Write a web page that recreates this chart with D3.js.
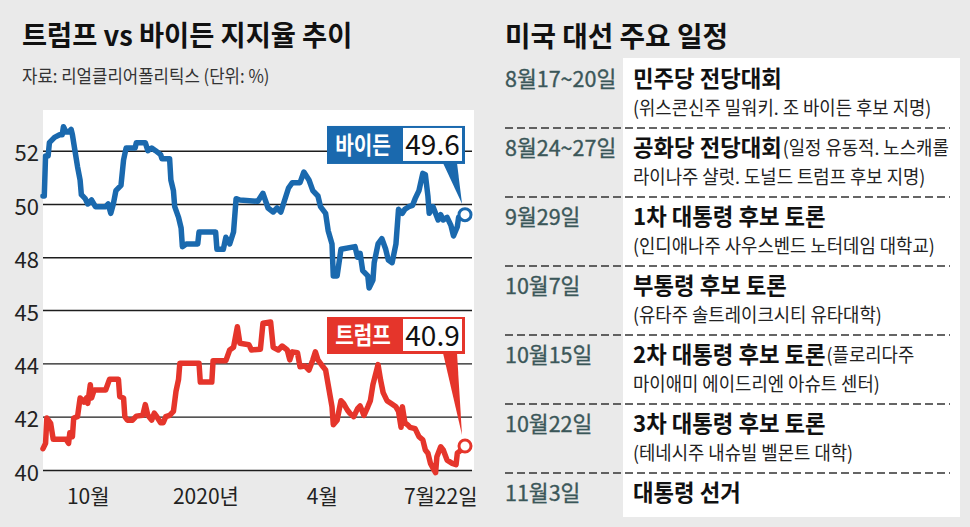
<!DOCTYPE html>
<html><head><meta charset="utf-8">
<script src="https://cdn.jsdelivr.net/npm/d3@7"></script>
<style>body{margin:0;background:#eaeaea;} svg{display:block}</style>
</head><body><svg id="c" width="970" height="527"></svg>
<script>
// ---------- DATA ----------
const bidenSeries = [["2019-08-27",50.3],["2019-08-28",50.3],["2019-08-29",51.8],["2019-08-31",51.8],["2019-09-01",52.3],["2019-09-05",52.5],["2019-09-09",52.6],["2019-09-11",52.6],["2019-09-12",52.9],["2019-09-14",52.7],["2019-09-16",52.7],["2019-09-18",52.8],["2019-09-19",52.6],["2019-09-21",52.0],["2019-09-23",51.4],["2019-09-25",50.9],["2019-09-26",50.35],["2019-09-29",50.2],["2019-10-01",50.0],["2019-10-04",50.15],["2019-10-07",49.9],["2019-10-15",49.9],["2019-10-17",50.0],["2019-10-19",49.65],["2019-10-21",50.0],["2019-10-23",50.5],["2019-10-27",50.7],["2019-10-29",51.65],["2019-10-31",52.1],["2019-11-07",52.1],["2019-11-08",52.3],["2019-11-15",52.3],["2019-11-17",52.0],["2019-11-20",52.1],["2019-11-23",52.0],["2019-11-27",51.85],["2019-11-28",51.7],["2019-12-04",51.7],["2019-12-05",50.9],["2019-12-07",50.5],["2019-12-08",49.9],["2019-12-11",49.5],["2019-12-13",49.1],["2019-12-14",48.4],["2019-12-17",48.5],["2019-12-26",48.5],["2019-12-27",48.95],["2020-01-09",48.95],["2020-01-10",48.3],["2020-01-15",48.3],["2020-01-17",48.75],["2020-01-20",48.5],["2020-01-23",48.95],["2020-01-25",50.2],["2020-01-28",50.15],["2020-02-11",50.1],["2020-02-15",50.4],["2020-02-19",49.85],["2020-02-23",49.7],["2020-02-26",49.85],["2020-02-29",49.7],["2020-03-02",50.0],["2020-03-06",50.6],["2020-03-09",50.8],["2020-03-15",50.8],["2020-03-18",51.2],["2020-03-22",50.9],["2020-03-25",50.5],["2020-03-29",50.3],["2020-03-31",49.9],["2020-04-04",49.65],["2020-04-06",49.0],["2020-04-09",48.5],["2020-04-10",47.3],["2020-04-13",47.3],["2020-04-16",48.3],["2020-04-27",48.4],["2020-04-29",48.0],["2020-05-01",48.15],["2020-05-03",47.5],["2020-05-07",47.3],["2020-05-08",46.85],["2020-05-11",47.15],["2020-05-12",47.8],["2020-05-15",48.5],["2020-05-18",48.7],["2020-05-21",48.3],["2020-05-23",47.9],["2020-05-26",47.8],["2020-05-29",48.5],["2020-05-31",49.8],["2020-06-03",49.65],["2020-06-05",49.8],["2020-06-08",49.9],["2020-06-11",49.95],["2020-06-13",50.2],["2020-06-16",50.5],["2020-06-19",51.15],["2020-06-21",51.1],["2020-06-23",50.3],["2020-06-24",49.65],["2020-06-27",49.9],["2020-07-01",49.4],["2020-07-03",49.6],["2020-07-05",49.4],["2020-07-08",49.5],["2020-07-11",49.2],["2020-07-13",48.8],["2020-07-16",49.15],["2020-07-17",49.5],["2020-07-22",49.6]];

const trumpSeries = [["2019-08-27",40.8],["2019-08-29",41.0],["2019-08-30",41.95],["2019-09-02",41.75],["2019-09-04",41.15],["2019-09-14",41.15],["2019-09-16",41.0],["2019-09-17",41.4],["2019-09-19",41.25],["2019-09-20",41.95],["2019-09-23",42.0],["2019-09-25",42.7],["2019-09-28",42.55],["2019-09-30",42.7],["2019-10-01",42.5],["2019-10-03",43.2],["2019-10-04",42.7],["2019-10-06",43.0],["2019-10-15",43.0],["2019-10-18",43.4],["2019-10-25",43.4],["2019-10-26",42.75],["2019-10-29",42.7],["2019-10-30",42.0],["2019-11-01",41.87],["2019-11-05",41.87],["2019-11-08",42.02],["2019-11-13",42.05],["2019-11-15",42.45],["2019-11-17",42.05],["2019-11-20",41.87],["2019-11-22",42.13],["2019-11-24",42.0],["2019-11-27",41.77],["2019-11-29",41.77],["2019-12-01",42.0],["2019-12-04",42.05],["2019-12-07",42.2],["2019-12-09",42.95],["2019-12-11",43.4],["2019-12-12",44.0],["2019-12-27",44.0],["2019-12-28",43.3],["2020-01-06",43.3],["2020-01-07",44.1],["2020-01-17",44.1],["2020-01-20",44.5],["2020-01-23",44.6],["2020-01-26",45.37],["2020-01-28",44.75],["2020-02-04",44.7],["2020-02-06",44.5],["2020-02-13",44.53],["2020-02-15",45.5],["2020-02-21",45.55],["2020-02-23",44.6],["2020-02-27",44.5],["2020-03-01",44.65],["2020-03-05",44.5],["2020-03-07",44.13],["2020-03-09",44.43],["2020-03-13",44.4],["2020-03-15",43.87],["2020-03-19",43.9],["2020-03-22",43.75],["2020-03-25",44.13],["2020-03-27",44.43],["2020-03-29",44.13],["2020-04-02",43.87],["2020-04-04",43.75],["2020-04-06",43.2],["2020-04-09",42.37],["2020-04-10",41.7],["2020-04-13",41.87],["2020-04-16",42.6],["2020-04-18",42.5],["2020-04-21",42.25],["2020-04-23",42.13],["2020-04-26",42.0],["2020-04-29",42.3],["2020-05-01",42.4],["2020-05-04",42.05],["2020-05-07",42.37],["2020-05-09",42.6],["2020-05-11",43.2],["2020-05-15",43.95],["2020-05-17",43.37],["2020-05-19",42.9],["2020-05-22",42.6],["2020-05-25",42.5],["2020-05-29",42.37],["2020-05-31",42.2],["2020-06-02",41.6],["2020-06-03",42.37],["2020-06-05",41.77],["2020-06-07",41.7],["2020-06-09",41.6],["2020-06-13",41.55],["2020-06-16",41.25],["2020-06-19",41.13],["2020-06-21",40.75],["2020-06-23",40.63],["2020-06-25",40.25],["2020-06-27",40.07],["2020-06-29",39.9],["2020-06-30",40.5],["2020-07-03",40.87],["2020-07-05",40.75],["2020-07-08",40.37],["2020-07-12",40.25],["2020-07-15",40.2],["2020-07-16",40.63],["2020-07-19",40.75],["2020-07-22",40.9]];

const topTicks = [48, 50, 52];
const bottomTicks = [40, 42, 44, 46];
const bottomTickLabels = ["40", "42", "44", "45"];
const xTickDates = ["2019-10-01", "2020-01-01", "2020-04-01", "2020-07-22"];
const xTickLabels = ["10월", "2020년", "4월", "7월22일"];
const seriesNames = ["바이든", "트럼프"];

const chartTitle = "트럼프 vs 바이든 지지율 추이";
const chartSource = "자료: 리얼클리어폴리틱스 (단위: %)";
const scheduleTitle = "미국 대선 주요 일정";
const scheduleDates = ["8월17~20일", "8월24~27일", "9월29일", "10월7일", "10월15일", "10월22일", "11월3일"];
const scheduleEvents = ["민주당 전당대회", "공화당 전당대회", "1차 대통령 후보 토론", "부통령 후보 토론", "2차 대통령 후보 토론", "3차 대통령 후보 토론", "대통령 선거"];
const scheduleInline = ["", "(일정 유동적. 노스캐롤", "", "", "(플로리다주", "", ""];
const scheduleNotes = ["(위스콘신주 밀워키. 조 바이든 후보 지명)", "라이나주 샬럿. 도널드 트럼프 후보 지명)", "(인디애나주 사우스벤드 노터데임 대학교)", "(유타주 솔트레이크시티 유타대학)", "마이애미 에이드리엔 아슈트 센터)", "(테네시주 내슈빌 벨몬트 대학)", ""];

// ---------- STYLE ----------
const KR = "'Noto Sans CJK KR', 'Noto Sans', sans-serif";
const NUM = "'Liberation Sans Narrow', 'Noto Sans CJK KR', sans-serif";
const BLUE = "#1a69ae", RED = "#e5352b", BG = "#eaeaea", DATE_C = "#3b5759";

const parse = d3.timeParse("%Y-%m-%d");
const svg = d3.select("#c");
svg.append("rect").attr("width", 970).attr("height", 527).attr("fill", BG);

function fit(sel, k) {
  sel.each(function () {
    const L = this.getComputedTextLength();
    d3.select(this).attr("textLength", L * k).attr("lengthAdjust", "spacingAndGlyphs");
  });
  return sel;
}

// ---------- LEFT CHART ----------
const x = d3.scaleTime().domain([parse(bidenSeries[0][0]), parse(bidenSeries[bidenSeries.length - 1][0])]).range([43, 465]);
const yTop = d3.scaleLinear().domain([48, 52]).range([257.3, 150.7]);
const yBot = d3.scaleLinear().domain([40, 46]).range([470, 310]);

svg.append("text").attr("x", 22).attr("y", 36).attr("dy", "0.36em")
  .attr("font-family", KR).attr("font-weight", 700).attr("font-size", 28).attr("fill", "#111")
  .text(chartTitle).call(fit, 0.975);
svg.append("text").attr("x", 22).attr("y", 77).attr("dy", "0.36em")
  .attr("font-family", KR).attr("font-size", 18).attr("fill", "#333")
  .text(chartSource).call(fit, 0.93);

svg.append("rect").attr("x", 43).attr("y", 110).attr("width", 431).attr("height", 360).attr("fill", "#fff");

function styleAxis(g) {
  g.select(".domain").remove();
  g.selectAll(".tick line").attr("stroke", "#1d1d1d").attr("stroke-width", 1.4);
  g.selectAll(".tick text").attr("font-family", NUM).attr("font-size", 22).attr("fill", "#222").attr("dy", "0.46em");
}
const gridW = 472 - 43;
svg.append("g").attr("transform", "translate(43,0)")
  .call(d3.axisLeft(yTop).tickValues(topTicks).tickSize(-gridW).tickPadding(4).tickFormat(d => String(d)))
  .call(styleAxis);
svg.append("g").attr("transform", "translate(43,0)")
  .call(d3.axisLeft(yBot).tickValues(bottomTicks).tickSize(-gridW).tickPadding(4).tickFormat((d, i) => bottomTickLabels[i]))
  .call(styleAxis);

const xg = svg.append("g").attr("transform", "translate(0,470)")
  .call(d3.axisBottom(x).tickValues(xTickDates.map(parse)).tickSize(0).tickPadding(19).tickFormat((d, i) => xTickLabels[i]));
xg.select(".domain").remove();
xg.selectAll(".tick text").attr("font-family", NUM).attr("font-size", 21).attr("fill", "#222");
xg.selectAll(".tick:last-of-type text").attr("text-anchor", "end").attr("dx", 12);

function drawSeries(series, yS, color) {
  const line = d3.line().x(d => x(parse(d[0]))).y(d => yS(d[1]));
  svg.append("path").datum(series).attr("d", line).attr("fill", "none")
    .attr("stroke", color).attr("stroke-width", 5.5).attr("stroke-linejoin", "round").attr("stroke-linecap", "round");
}
drawSeries(bidenSeries, yTop, BLUE);
drawSeries(trumpSeries, yBot, RED);

function drawLabel(series, yS, color, name, gapAbove, boxH) {
  const last = series[series.length - 1];
  const px = x(parse(last[0])), py = yS(last[1]);
  const x1 = px, x0 = px - 138, yb = py - gapAbove, yt = yb - boxH;
  const g = svg.append("g");
  g.append("path").attr("d", `M${x1 - 22},${yb - 1}L${x1 - 8},${yb - 1}L${px - 3},${py - 11}Z`).attr("fill", color);
  g.append("rect").attr("x", x0).attr("y", yt).attr("width", 138).attr("height", boxH).attr("fill", color);
  g.append("rect").attr("x", x0 + 76).attr("y", yt + 2).attr("width", 59).attr("height", boxH - 5).attr("fill", "#fff");
  g.append("text").attr("x", x0 + 36).attr("y", (yt + yb) / 2).attr("dy", "0.36em").attr("text-anchor", "middle")
    .attr("font-family", KR).attr("font-weight", 700).attr("font-size", 24).attr("fill", "#fff")
    .text(name).call(fit, 0.84);
  g.append("text").attr("x", x0 + 76 + 29.5).attr("y", (yt + yb) / 2).attr("dy", "0.36em").attr("text-anchor", "middle")
    .attr("font-family", NUM).attr("font-size", 28).attr("fill", "#111")
    .text(d3.format(".1f")(last[1]));
  g.append("circle").attr("cx", px).attr("cy", py).attr("r", 6).attr("fill", "#fff")
    .attr("stroke", color).attr("stroke-width", 3);
}
drawLabel(bidenSeries, yTop, BLUE, seriesNames[0], 50.7, 38);
drawLabel(trumpSeries, yBot, RED, seriesNames[1], 92, 37);

// ---------- RIGHT SCHEDULE ----------
svg.append("text").attr("x", 505).attr("y", 37).attr("dy", "0.36em")
  .attr("font-family", KR).attr("font-weight", 700).attr("font-size", 28).attr("fill", "#111")
  .text(scheduleTitle).call(fit, 0.99);

svg.append("rect").attr("x", 623).attr("y", 58).attr("width", 337).attr("height", 459).attr("fill", "#fff");

const rowY = d3.scaleLinear().domain([0, 1]).range([59, 128]);
scheduleDates.forEach((d, i) => {
  const top = rowY(i);
  if (i > 0) {
    svg.append("line").attr("x1", 505).attr("x2", 950).attr("y1", top).attr("y2", top)
      .attr("stroke", "#333").attr("stroke-width", 1.3).attr("stroke-dasharray", "8,4");
  }
  svg.append("text").attr("x", 505).attr("y", top + 20).attr("dy", "0.36em")
    .attr("font-family", NUM).attr("font-size", 21.5).attr("fill", DATE_C)
    .attr("stroke", DATE_C).attr("stroke-width", 0.35).text(d);
  const ev = svg.append("text").attr("x", 633).attr("y", top + 20).attr("dy", "0.36em")
    .attr("font-family", KR).attr("font-weight", 700).attr("font-size", 23).attr("fill", "#111")
    .text(scheduleEvents[i]).call(fit, 0.97);
  if (scheduleInline[i]) {
    const w = +ev.attr("textLength");
    svg.append("text").attr("x", 633 + w + 1).attr("y", top + 20).attr("dy", "0.36em")
      .attr("font-family", KR).attr("font-size", 19).attr("fill", "#222")
      .text(scheduleInline[i]).call(fit, 0.935);
  }
  if (scheduleNotes[i]) {
    svg.append("text").attr("x", 633).attr("y", top + 49.5).attr("dy", "0.36em")
      .attr("font-family", KR).attr("font-size", 19).attr("fill", "#222")
      .text(scheduleNotes[i]).call(fit, 0.935);
  }
});
</script>
</body></html>
